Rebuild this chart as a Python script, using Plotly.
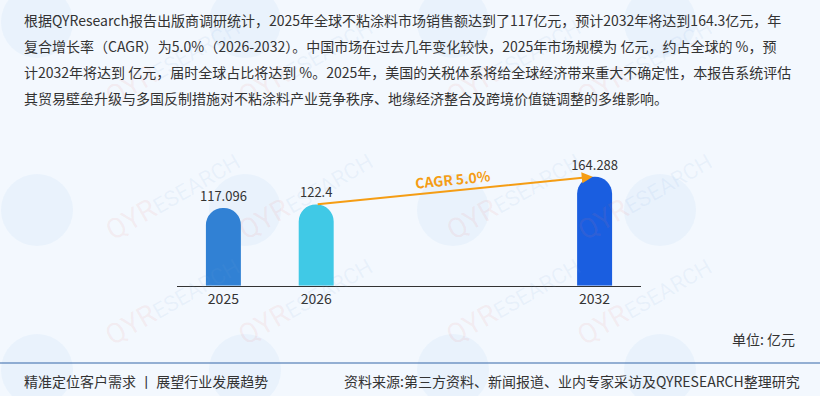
import plotly.graph_objects as go

# ---- data ----
years = ["2025", "2026", "2032"]
slots = [0, 1, 4]
values = [117.096, 122.4, 164.288]
value_labels = ["117.096", "122.4", "164.288"]
bar_colors = ["#3181d4", "#40c9e6", "#1a5ee0"]
cagr_label = "CAGR 5.0%"
para_lines = [
    "根据QYResearch报告出版商调研统计，2025年全球不粘涂料市场销售额达到了117亿元，预计2032年将达到164.3亿元，年",
    "复合增长率（CAGR）为5.0%（2026-2032）。中国市场在过去几年变化较快，2025年市场规模为 亿元，约占全球的 %，预",
    "计2032年将达到 亿元，届时全球占比将达到 %。2025年，美国的关税体系将给全球经济带来重大不确定性，本报告系统评估",
    "其贸易壁垒升级与多国反制措施对不粘涂料产业竞争秩序、地缘经济整合及跨境价值链调整的多维影响。",
]
unit_label = "单位: 亿元"
footer_left = "精准定位客户需求 丨 展望行业发展趋势"
footer_right = "资料来源:第三方资料、新闻报道、业内专家采访及QYRESEARCH整理研究"

W, H = 820, 396
BG = "#f3f8fe"
FONT = "Noto Sans CJK SC"
TXT = "#333333"
ORANGE = "#f59d14"

def px(x):
    return x / W

def py(y):
    return 1 - y / H

fig = go.Figure()

fig.add_trace(go.Bar(
    x=slots, y=values, width=0.377,
    marker=dict(color=bar_colors, cornerradius="50%", line=dict(width=0)),
    text=value_labels, textposition="outside", cliponaxis=False, constraintext="none",
    textfont=dict(size=13, color=TXT, family=FONT),
    hoverinfo="skip",
))

shapes = []
annotations = []

# watermarks
wm_cols = [37, 245, 453, 660]
wm_rows = [22, 210, 370]
for cy in wm_rows:
    for cx in wm_cols:
        r = 36
        shapes.append(dict(type="circle", xref="paper", yref="paper", layer="below",
                           x0=px(cx - r), x1=px(cx + r), y0=py(cy + r), y1=py(cy - r),
                           fillcolor="rgba(150,195,235,0.10)", line=dict(width=0)))
        annotations.append(dict(
            xref="paper", yref="paper", x=px(cx + 60), y=py(cy - 15), showarrow=False,
            textangle=-30, font=dict(size=22, family="Roboto"),
            text="<span style='color:rgba(235,120,120,0.10);font-size:28px'>QYR</span>"
                 "<span style='color:rgba(120,165,220,0.09)'>ESEARCH</span>"))

# paragraph
for i, line in enumerate(para_lines):
    annotations.append(dict(xref="paper", yref="paper", x=px(22), y=py(20 + 26 * i),
                            xanchor="left", yanchor="middle", showarrow=False, text=line,
                            font=dict(size=14, color=TXT, family=FONT)))

# CAGR arrow
annotations.append(dict(x=3.98, y=values[2], ax=slots[1], ay=values[1],
                        xref="x", yref="y", axref="x", ayref="y", text="",
                        showarrow=True, arrowhead=2, arrowsize=1.1, arrowwidth=2,
                        arrowcolor=ORANGE, standoff=0, startstandoff=0))
annotations.append(dict(x=2.474, y=160.9, xref="x", yref="y", text="<b>" + cagr_label + "</b>",
                        showarrow=False, textangle=-5.7,
                        font=dict(size=14, color=ORANGE, family=FONT)))

# unit + footer
annotations.append(dict(xref="paper", yref="paper", x=px(797), y=py(339), xanchor="right",
                        yanchor="middle", showarrow=False, text=unit_label,
                        font=dict(size=14, color=TXT, family=FONT)))
annotations.append(dict(xref="paper", yref="paper", x=px(22), y=py(381), xanchor="left",
                        yanchor="middle", showarrow=False, text=footer_left,
                        font=dict(size=14, color=TXT, family=FONT)))
annotations.append(dict(xref="paper", yref="paper", x=px(802), y=py(381), xanchor="right",
                        yanchor="middle", showarrow=False, text=footer_right,
                        font=dict(size=14, color=TXT, family=FONT)))

shapes.append(dict(type="line", xref="paper", yref="paper", x0=0, x1=1, y0=py(363), y1=py(363),
                   line=dict(color="#3566a8", width=1)))

base_px = 285.7
scale = 0.6635
yr = 200
fig.update_layout(
    width=W, height=H, margin=dict(l=0, r=0, t=0, b=0),
    paper_bgcolor=BG, plot_bgcolor="rgba(0,0,0,0)",
    showlegend=False, shapes=shapes, annotations=annotations,
    font=dict(family=FONT, color=TXT),
    xaxis=dict(domain=[px(177), px(641)], range=[-0.5, 4.5], tickvals=slots, ticktext=years,
               showline=True, linecolor="#333333", linewidth=1, showgrid=False, zeroline=False,
               ticks="", tickfont=dict(size=14, color=TXT, family=FONT), fixedrange=True),
    yaxis=dict(domain=[(H - base_px) / H, (H - base_px + yr * scale) / H], range=[0, yr],
               visible=False, fixedrange=True),
)

fig.write_html("out.html")
